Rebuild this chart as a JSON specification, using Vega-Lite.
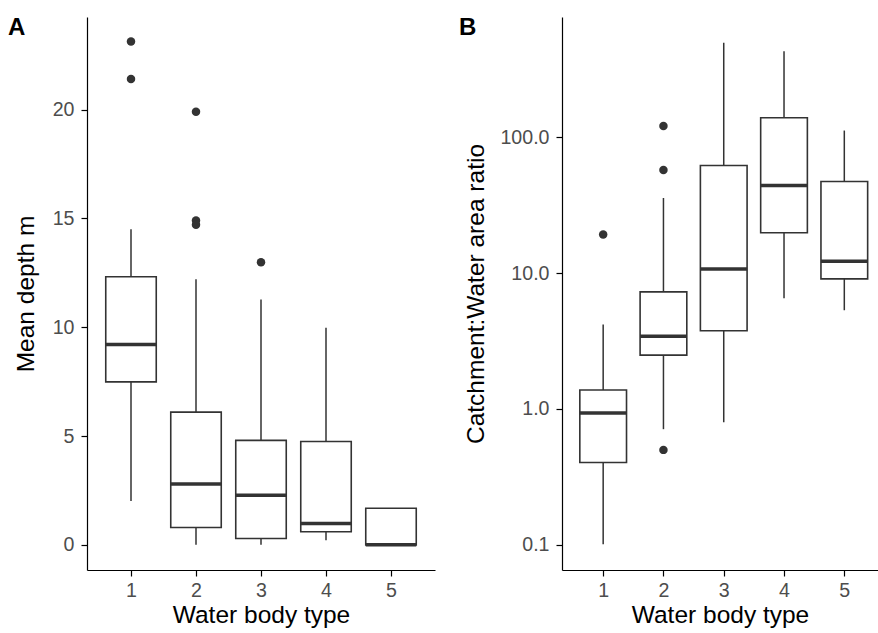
{
  "$schema": "https://vega.github.io/schema/vega-lite/v6.json",
  "background": "white",
  "padding": {"left": 8, "top": 16, "right": 0, "bottom": 0},
  "datasets": {
    "depth_box": [
      {"type": 1, "lower": 2.02, "q1": 7.49, "median": 9.21, "q3": 12.32, "upper": 14.5},
      {"type": 2, "lower": 0.0, "q1": 0.80, "median": 2.80, "q3": 6.10, "upper": 12.2},
      {"type": 3, "lower": 0.0, "q1": 0.29, "median": 2.28, "q3": 4.80, "upper": 11.28},
      {"type": 4, "lower": 0.21, "q1": 0.60, "median": 0.98, "q3": 4.75, "upper": 9.98},
      {"type": 5, "lower": 0.0, "q1": 0.0, "median": 0.0, "q3": 1.68, "upper": 1.68}
    ],
    "depth_out": [
      {"type": 1, "value": 23.13},
      {"type": 1, "value": 21.41},
      {"type": 2, "value": 19.9},
      {"type": 2, "value": 14.91},
      {"type": 2, "value": 14.71},
      {"type": 3, "value": 12.99}
    ],
    "ratio_box": [
      {"type": 1, "lower": 0.101, "q1": 0.404, "median": 0.935, "q3": 1.38, "upper": 4.19},
      {"type": 2, "lower": 0.71, "q1": 2.49, "median": 3.43, "q3": 7.28, "upper": 35.7},
      {"type": 3, "lower": 0.80, "q1": 3.76, "median": 10.7, "q3": 61.9, "upper": 495},
      {"type": 4, "lower": 6.53, "q1": 19.8, "median": 44.1, "q3": 139, "upper": 430},
      {"type": 5, "lower": 5.33, "q1": 9.06, "median": 12.2, "q3": 47.2, "upper": 112}
    ],
    "ratio_out": [
      {"type": 1, "value": 19.2},
      {"type": 2, "value": 121},
      {"type": 2, "value": 57.3},
      {"type": 2, "value": 0.50}
    ]
  },
  "config": {
    "view": {"stroke": null},
    "font": "Liberation Sans",
    "axis": {
      "grid": false,
      "domainColor": "black",
      "domainWidth": 1.2,
      "tickColor": "black",
      "tickWidth": 1.2,
      "tickSize": 6,
      "labelFontSize": 19.6,
      "labelColor": "#4d4d4d",
      "labelFont": "Liberation Sans",
      "titleFont": "Liberation Sans",
      "titleFontSize": 24.5,
      "titleFontWeight": "normal",
      "titleColor": "black"
    },
    "axisX": {"labelPadding": 5, "titlePadding": 4},
    "axisY": {"labelPadding": 7},
    "title": {"font": "Liberation Sans"}
  },
  "hconcat": [
    {
      "width": 348,
      "height": 553,
      "title": {"text": "A", "anchor": "start", "frame": "group", "fontSize": 24, "fontWeight": "bold", "color": "black", "dx": -79, "offset": -42, "baseline": "alphabetic"},
      "layer": [
        {
          "data": {"name": "depth_box"},
          "mark": {"type": "rule", "color": "#333333", "strokeWidth": 1.5},
          "encoding": {
            "x": {"field": "type", "type": "quantitative", "scale": {"domain": [0.4, 5.6], "nice": false, "zero": false}, "axis": {"values": [1, 2, 3, 4, 5], "format": "d", "title": "Water body type"}},
            "y": {"field": "lower", "type": "quantitative", "scale": {"domain": [-1.155, 24.255], "nice": false, "zero": false}, "axis": {"values": [0, 5, 10, 15, 20], "title": "Mean depth m", "titlePadding": 14}},
            "y2": {"field": "upper"}
          }
        },
        {
          "data": {"name": "depth_box"},
          "mark": {"type": "bar", "size": 50.5, "fill": "white", "stroke": "#333333", "strokeWidth": 1.6},
          "encoding": {
            "x": {"field": "type", "type": "quantitative"},
            "y": {"field": "q1", "type": "quantitative"},
            "y2": {"field": "q3"}
          }
        },
        {
          "data": {"name": "depth_box"},
          "mark": {"type": "tick", "orient": "horizontal", "size": 50.5, "thickness": 3.5, "color": "#333333", "opacity": 1},
          "encoding": {
            "x": {"field": "type", "type": "quantitative"},
            "y": {"field": "median", "type": "quantitative"}
          }
        },
        {
          "data": {"name": "depth_out"},
          "mark": {"type": "point", "filled": true, "size": 72, "color": "#333333", "opacity": 1},
          "encoding": {
            "x": {"field": "type", "type": "quantitative"},
            "y": {"field": "value", "type": "quantitative"}
          }
        }
      ]
    },
    {
      "width": 316,
      "height": 553,
      "title": {"text": "B", "anchor": "start", "frame": "group", "fontSize": 24, "fontWeight": "bold", "color": "black", "dx": -103, "offset": -42, "baseline": "alphabetic"},
      "layer": [
        {
          "data": {"name": "ratio_box"},
          "mark": {"type": "rule", "color": "#333333", "strokeWidth": 1.5},
          "encoding": {
            "x": {"field": "type", "type": "quantitative", "scale": {"domain": [0.4, 5.476], "nice": false, "zero": false}, "axis": {"values": [1, 2, 3, 4, 5], "format": "d", "title": "Water body type"}},
            "y": {"field": "lower", "type": "quantitative", "scale": {"type": "log", "domain": [0.0653, 767], "nice": false}, "axis": {"values": [0.1, 1, 10, 100], "format": ".1f", "title": "Catchment:Water area ratio", "titlePadding": 11}},
            "y2": {"field": "upper"}
          }
        },
        {
          "data": {"name": "ratio_box"},
          "mark": {"type": "bar", "size": 46.7, "fill": "white", "stroke": "#333333", "strokeWidth": 1.6},
          "encoding": {
            "x": {"field": "type", "type": "quantitative"},
            "y": {"field": "q1", "type": "quantitative"},
            "y2": {"field": "q3"}
          }
        },
        {
          "data": {"name": "ratio_box"},
          "mark": {"type": "tick", "orient": "horizontal", "size": 46.7, "thickness": 3.5, "color": "#333333", "opacity": 1},
          "encoding": {
            "x": {"field": "type", "type": "quantitative"},
            "y": {"field": "median", "type": "quantitative"}
          }
        },
        {
          "data": {"name": "ratio_out"},
          "mark": {"type": "point", "filled": true, "size": 72, "color": "#333333", "opacity": 1},
          "encoding": {
            "x": {"field": "type", "type": "quantitative"},
            "y": {"field": "value", "type": "quantitative"}
          }
        }
      ]
    }
  ],
  "resolve": {"scale": {"x": "independent", "y": "independent"}},
  "bounds": "flush",
  "spacing": 127
}
